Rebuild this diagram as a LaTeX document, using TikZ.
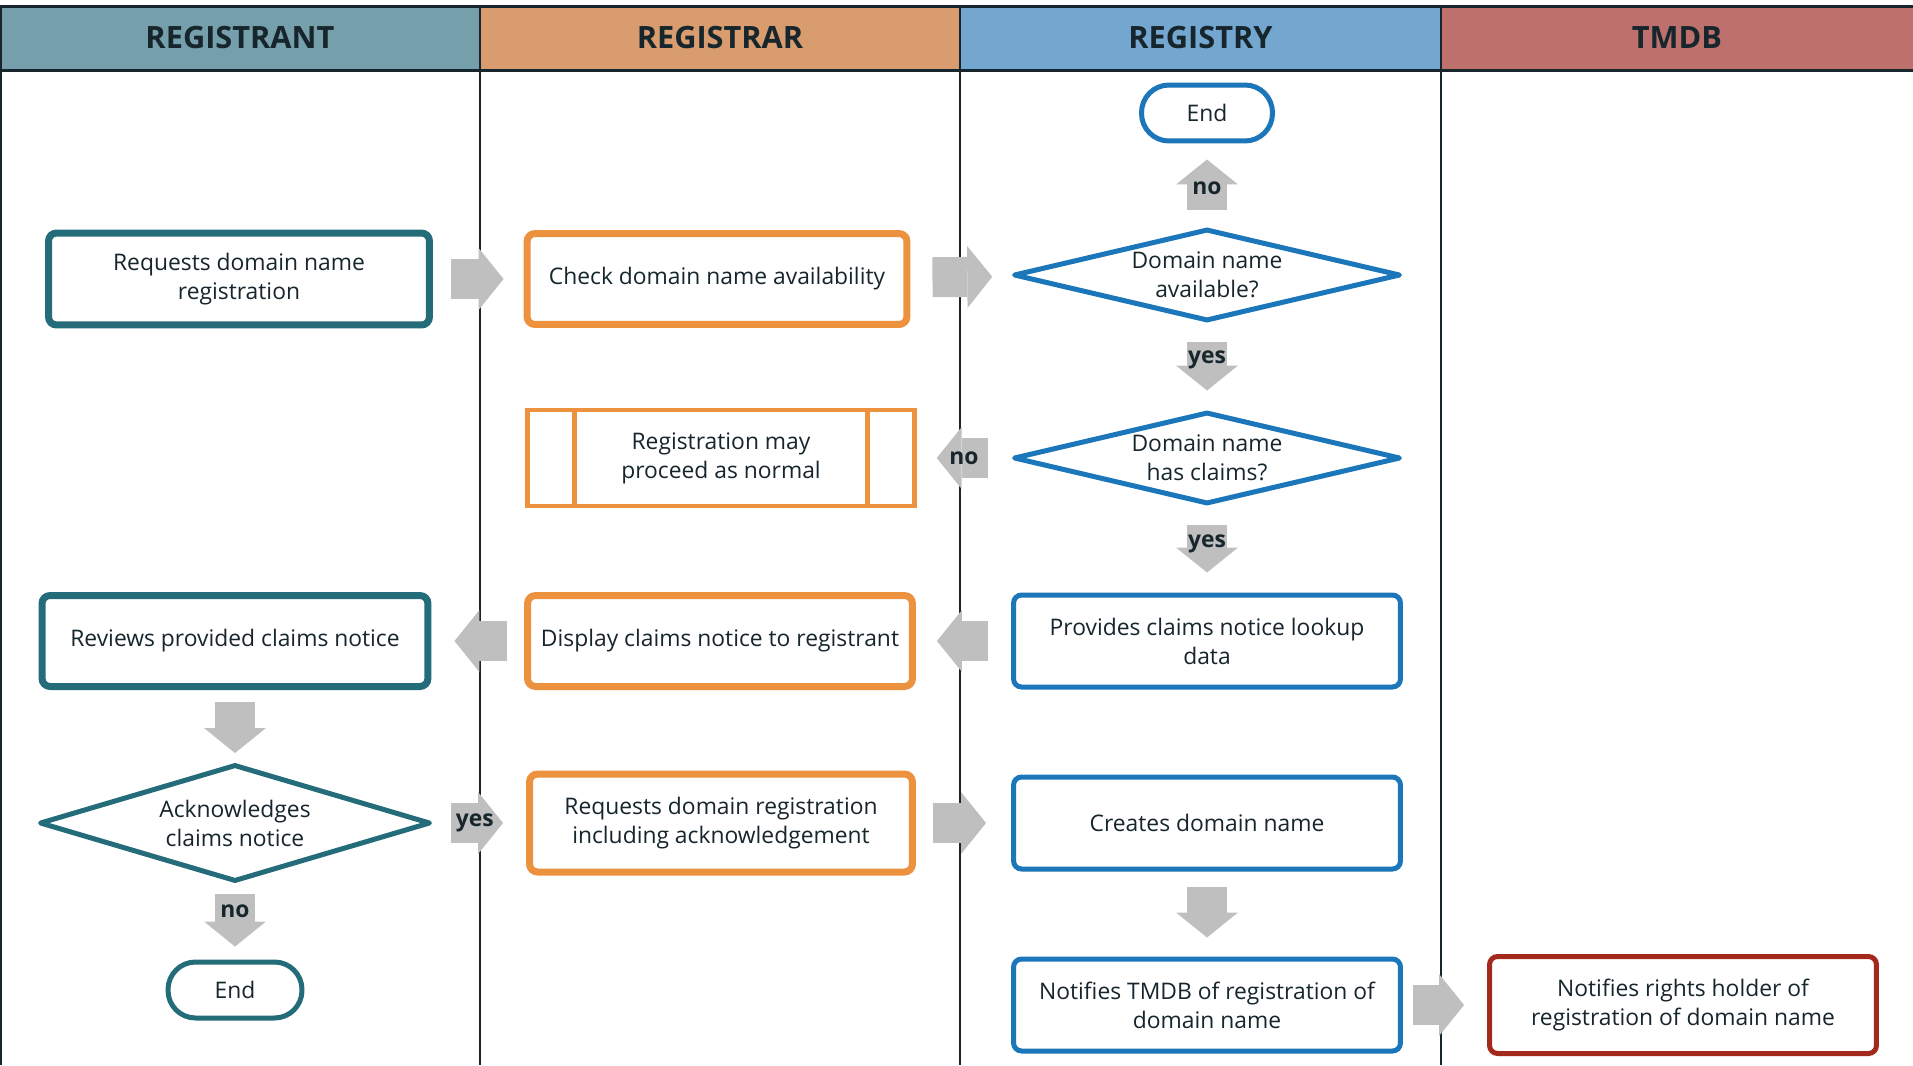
\documentclass[tikz,border=0pt]{standalone}
\usepackage{fontspec}
\setmainfont{Open Sans}
\usepackage{tikz}
\usetikzlibrary{shapes.geometric, arrows.meta, positioning, calc}

\definecolor{inkdark}{HTML}{17262C}
\definecolor{rgnthead}{HTML}{769FAC}
\definecolor{rgrhead}{HTML}{D99C6F}
\definecolor{rgyhead}{HTML}{74A7CF}
\definecolor{tmdbhead}{HTML}{BE716C}
\definecolor{rgntcol}{HTML}{256C7A}
\definecolor{rgrcol}{HTML}{EC923E}
\definecolor{rgycol}{HTML}{1B77B9}
\definecolor{tmdbcol}{HTML}{A2291B}
\definecolor{arrowgray}{HTML}{BFBFBF}

\begin{document}
\begin{tikzpicture}[x=0.02cm, y=-0.02cm,
        every node/.style={text=inkdark, font=\fontsize{13}{16.5}\selectfont},
        lanehead/.style={font=\fontsize{17.5}{20}\selectfont\bfseries, minimum height=1.28cm, inner sep=0pt},
        laneline/.style={draw=inkdark, line width=0.05cm},
        proc/.style={rectangle, rounded corners=0.16cm, fill=white, align=center, inner sep=2pt,
            minimum width=7.74cm, minimum height=1.84cm},
        registrant/.style={proc, draw=rgntcol, line width=0.14cm},
        registrar/.style={proc, draw=rgrcol, line width=0.14cm},
        registry/.style={proc, draw=rgycol, line width=0.1cm},
        tmdb/.style={proc, draw=tmdbcol, line width=0.1cm},
        decision/.style={diamond, aspect=4, fill=white, align=center, inner sep=0pt, line join=round,
            line width=0.1cm, minimum width=7.74cm, minimum height=1.84cm},
        terminal/.style={rectangle, fill=white, line width=0.1cm, minimum width=2.62cm, minimum height=1.12cm, rounded corners=0.55cm},
        predef/.style={rectangle, draw=rgrcol, line width=0.09cm, fill=white, align=center,
            minimum width=7.74cm, minimum height=1.92cm,
            path picture={\draw[rgrcol, line width=0.09cm]
                ([xshift=0.94cm]path picture bounding box.north west) -- ([xshift=0.94cm]path picture bounding box.south west)
                ([xshift=-0.94cm]path picture bounding box.north east) -- ([xshift=-0.94cm]path picture bounding box.south east);}},
        flow/.style={draw=arrowgray, line width=0.8cm, -{Triangle[width=1.24cm, length=0.5cm, line width=0pt]}},
        flowlabel/.style={font=\fontsize{13}{16}\selectfont\bfseries, inner sep=0pt}]

    \useasboundingbox (0,0) rectangle (1913,1065);

    % swim lane headers
    \node[lanehead, fill=rgnthead, minimum width=9.6cm] (hdrA) at (240,38) {REGISTRANT};
    \node[lanehead, fill=rgrhead, minimum width=9.6cm] (hdrB) at (720,38) {REGISTRAR};
    \node[lanehead, fill=rgyhead, minimum width=9.62cm] (hdrC) at (1200.5,38) {REGISTRY};
    \node[lanehead, fill=tmdbhead, minimum width=9.44cm] (hdrD) at (1677,38) {TMDB};

    \draw[laneline, line width=0.06cm] (0,6) -- (1913,6) (0,70) -- (1913,70);
    \foreach \lx in {1,480,960,1441}
        \draw[laneline] (\lx,6) -- (\lx,1065);

    % registrant
    \node[registrant, minimum width=7.62cm] (rqst) at (239,279) {Requests domain name\\registration};
    \node[registrant, minimum width=7.72cm, minimum height=1.82cm] (review) at (235,641) {Reviews provided claims notice};
    \node[decision, draw=rgntcol, minimum width=7.82cm, minimum height=2.34cm] (ack) at (235,823) {Acknowledges\\claims notice};
    \node[terminal, draw=rgntcol, minimum width=2.68cm] (endA) at (235,990) {End};

    % registrar
    \node[registrar, minimum width=7.6cm, minimum height=1.82cm] (check) at (717,279) {Check domain name availability};
    \node[predef] (normal) at (721,458) {Registration may\\proceed as normal};
    \node[registrar, minimum width=7.7cm, minimum height=1.82cm] (display) at (720,641) {Display claims notice to registrant};
    \node[registrar, minimum width=7.66cm, minimum height=1.96cm] (rqack) at (721,823) {Requests domain registration\\including acknowledgement};

    % registry
    \node[terminal, draw=rgycol] (endB) at (1207,113) {End};
    \node[decision, draw=rgycol] (avail) at (1207,275) {Domain name\\available?};
    \node[decision, draw=rgycol] (claims) at (1207,458) {Domain name\\has claims?};
    \node[registry] (lookup) at (1207,641) {Provides claims notice lookup\\data};
    \node[registry] (create) at (1207,823) {Creates domain name};
    \node[registry] (notify) at (1207,1005) {Notifies TMDB of registration of\\domain name};

    % tmdb
    \node[tmdb, minimum height=1.94cm] (holder) at (1683,1005) {Notifies rights holder of\\registration of domain name};

    % flow arrows
    \draw[flow, shorten <=0.36cm, shorten >=0.4cm] (rqst) -- (check);
    \draw[flow, shorten <=0.44cm, shorten >=0.5cm] (check) -- (avail);
    \draw[flow, shorten <=0.34cm, shorten >=0.32cm] (avail) -- node[flowlabel, pos=0.46] {no} (endB);
    \draw[flow, shorten <=0.38cm, shorten >=0.38cm] (avail) -- node[flowlabel, pos=0.42] {yes} (claims);
    \draw[flow, shorten <=0.46cm, shorten >=0.4cm] (claims) -- node[flowlabel, pos=0.5] {no} (normal);
    \draw[flow, shorten <=0.38cm, shorten >=0.4cm] (claims) -- node[flowlabel, pos=0.43] {yes} (lookup);
    \draw[flow, shorten <=0.46cm, shorten >=0.42cm] (lookup) -- (display);
    \draw[flow, shorten <=0.34cm, shorten >=0.46cm] (display) -- (review);
    \draw[flow, shorten <=0.24cm, shorten >=0.18cm] (review) -- (ack);
    \draw[flow, shorten <=0.2cm, shorten >=0.26cm] (ack) -- node[flowlabel, pos=0.36] {no} (endA);
    \draw[flow, shorten <=0.36cm, shorten >=0.46cm] (ack) -- node[flowlabel, pos=0.45] {yes} (rqack);
    \draw[flow, shorten <=0.34cm, shorten >=0.5cm] (rqack) -- (create);
    \draw[flow, shorten <=0.3cm, shorten >=0.38cm] (create) -- (notify);
    \draw[flow, shorten <=0.2cm, shorten >=0.46cm] (notify) -- (holder);
\end{tikzpicture}
\end{document}
